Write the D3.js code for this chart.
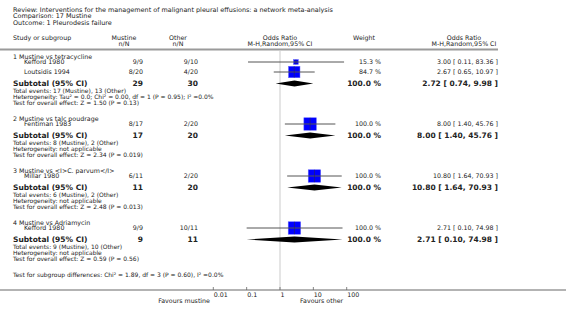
<!DOCTYPE html>
<html><head><meta charset="utf-8">
<script src="https://cdn.jsdelivr.net/npm/d3@7"></script>
<style>
html,body{margin:0;padding:0;background:#fff;}
text{font-family:"DejaVu Sans",sans-serif;fill:#222;}
</style></head>
<body><svg id="c" width="566" height="313"></svg>
<script>
const titleLines = [
  "Review:  Interventions for the management of malignant pleural effusions: a network meta-analysis",
  "Comparison:  17 Mustine",
  "Outcome:  1 Pleurodesis failure"
];
const groupNames = ["1 Mustine vs tetracycline","2 Mustine vs talc poudrage","3 Mustine vs <I>C. parvum</I>","4 Mustine vs Adriamycin"];
const studyGroup = [0,0,1,2,3];
const studyNames = ["Kefford 1980","Loutsidis 1994","Fentiman 1983","Millar 1980","Kefford 1980"];
const studyExp = ["9/9","8/20","8/17","6/11","9/9"];
const studyCtl = ["9/10","4/20","2/20","2/20","10/11"];
const studyWeight = [15.3,84.7,100.0,100.0,100.0];
const studyOR = [3.00,2.67,8.00,10.80,2.71];
const studyLo = [0.11,0.65,1.40,1.64,0.10];
const studyHi = [83.36,10.97,45.76,70.93,74.98];
const subExpN = [29,17,11,9];
const subCtlN = [30,20,20,11];
const subOR = [2.72,8.00,10.80,2.71];
const subLo = [0.74,1.40,1.64,0.10];
const subHi = [9.98,45.76,70.93,74.98];
const subTotalEvents = ["Total events: 17 (Mustine), 13 (Other)","Total events: 8 (Mustine), 2 (Other)","Total events: 6 (Mustine), 2 (Other)","Total events: 9 (Mustine), 10 (Other)"];
const subHet = ["Heterogeneity: Tau\u00B2 = 0.0; Chi\u00B2 = 0.00, df = 1 (P = 0.95); I\u00B2 =0.0%","Heterogeneity: not applicable","Heterogeneity: not applicable","Heterogeneity: not applicable"];
const subTest = ["Test for overall effect: Z = 1.50 (P = 0.13)","Test for overall effect: Z = 2.34 (P = 0.019)","Test for overall effect: Z = 2.48 (P = 0.013)","Test for overall effect: Z = 0.59 (P = 0.56)"];
const subgroupDiff = "Test for subgroup differences: Chi\u00B2 = 1.89, df = 3 (P = 0.60), I\u00B2 =0.0%";
const tickValues = [0.01,0.1,1,10,100];
const tickLabels = ["0.01","0.1","1","10","100"];
const favoursLeft = "Favours mustine";
const favoursRight = "Favours other";

const FS = 6.3, FI = 6.0, FB = 7.5, FT = 6.45;
const svg = d3.select("#c");
const x = d3.scaleLog().domain([0.01,100]).range([213.3,346.7]);
const fmt2 = d3.format(".2f");
const ciText = (o,l,h)=>`${fmt2(o)} [ ${fmt2(l)}, ${fmt2(h)} ]`;

const lines = [];
let yy = 56.5;
groupNames.forEach((g,gi)=>{
  lines.push({type:"group", gi, y:yy});
  const st = studyGroup.map((v,i)=>v===gi?i:-1).filter(i=>i>=0);
  st.forEach((si,k)=>{ yy += (k===0?5.5:10); lines.push({type:"study", si, y:yy}); });
  yy += 11.5; lines.push({type:"sub", gi, y:yy});
  yy += 7.5; lines.push({type:"info", text:subTotalEvents[gi], y:yy});
  yy += 6.1; lines.push({type:"info", text:subHet[gi], y:yy});
  yy += 6.1; lines.push({type:"info", text:subTest[gi], y:yy});
  yy += 15.3;
});
lines.push({type:"info2", text:subgroupDiff, y:yy});

const colExp = 143, colCtl = 198, colW = 381, colOR = 498;
const axisY = 290;

svg.selectAll("text.title").data(titleLines).join("text")
  .attr("x",13).attr("y",(d,i)=>11.5+i*6.5).attr("font-size",FT).text(d=>d);

const hdr = svg.append("g").attr("font-size",FS);
hdr.append("text").attr("x",13).attr("y",40).text("Study or subgroup");
hdr.append("text").attr("x",124).attr("y",40).attr("text-anchor","middle").text("Mustine");
hdr.append("text").attr("x",124).attr("y",46).attr("text-anchor","middle").text("n/N");
hdr.append("text").attr("x",178).attr("y",40).attr("text-anchor","middle").text("Other");
hdr.append("text").attr("x",178).attr("y",46).attr("text-anchor","middle").text("n/N");
hdr.append("text").attr("x",x(1)).attr("y",40).attr("text-anchor","middle").text("Odds Ratio");
hdr.append("text").attr("x",x(1)).attr("y",46).attr("text-anchor","middle").text("M-H,Random,95% CI");
hdr.append("text").attr("x",364).attr("y",40).attr("text-anchor","middle").text("Weight");
hdr.append("text").attr("x",464).attr("y",40).attr("text-anchor","middle").text("Odds Ratio");
hdr.append("text").attr("x",464).attr("y",46).attr("text-anchor","middle").text("M-H,Random,95% CI");
svg.append("line").attr("x1",0).attr("x2",498).attr("y1",49.5).attr("y2",49.5).attr("stroke","#9a9a9a").attr("stroke-width",2);

svg.append("line").attr("x1",x(1)).attr("x2",x(1)).attr("y1",51).attr("y2",axisY).attr("stroke","#dcdcdc").attr("stroke-width",1.5);

const g = svg.append("g");
lines.forEach(L=>{
  const by = L.y + 2.2;
  if(L.type==="group"){
    g.append("text").attr("x",13).attr("y",by).attr("font-size",FS).text(groupNames[L.gi]);
  } else if(L.type==="study"){
    const i=L.si;
    g.append("text").attr("x",24).attr("y",by).attr("font-size",FS).text(studyNames[i]);
    g.append("text").attr("x",colExp).attr("y",by).attr("font-size",FS).attr("text-anchor","end").text(studyExp[i]);
    g.append("text").attr("x",colCtl).attr("y",by).attr("font-size",FS).attr("text-anchor","end").text(studyCtl[i]);
    g.append("text").attr("x",colW).attr("y",by).attr("font-size",FS).attr("text-anchor","end").text(studyWeight[i].toFixed(1)+" %");
    g.append("text").attr("x",colOR).attr("y",by).attr("font-size",FS).attr("text-anchor","end").text(ciText(studyOR[i],studyLo[i],studyHi[i]));
    const s = 12.5*Math.sqrt(studyWeight[i]/100);
    const cx = x(studyOR[i]);
    g.append("rect").attr("x",cx-s/2).attr("y",L.y-s/2).attr("width",s).attr("height",s).attr("fill","#0000ff").attr("stroke","#6b6bff").attr("stroke-width",0.5);
    g.append("line").attr("x1",x(studyLo[i])).attr("x2",x(studyHi[i])).attr("y1",L.y).attr("y2",L.y).attr("stroke","#555").attr("stroke-width",1);
    g.append("line").attr("x1",cx).attr("x2",cx).attr("y1",L.y-s/2).attr("y2",L.y+s/2).attr("stroke","#333").attr("stroke-width",0.5);
  } else if(L.type==="sub"){
    const i=L.gi, b=L.y+2.7;
    g.append("text").attr("x",13).attr("y",b).attr("font-size",FB).attr("font-weight","bold").text("Subtotal (95% CI)");
    g.append("text").attr("x",colExp).attr("y",b).attr("font-size",FB).attr("font-weight","bold").attr("text-anchor","end").text(subExpN[i]);
    g.append("text").attr("x",colCtl).attr("y",b).attr("font-size",FB).attr("font-weight","bold").attr("text-anchor","end").text(subCtlN[i]);
    g.append("text").attr("x",colW).attr("y",b).attr("font-size",FB).attr("font-weight","bold").attr("text-anchor","end").text("100.0 %");
    g.append("text").attr("x",colOR).attr("y",b).attr("font-size",FB).attr("font-weight","bold").attr("text-anchor","end").text(ciText(subOR[i],subLo[i],subHi[i]));
    const pts = [[x(subLo[i]),L.y],[x(subOR[i]),L.y-3],[x(subHi[i]),L.y],[x(subOR[i]),L.y+3]];
    g.append("polygon").attr("points",pts.map(p=>p.join(",")).join(" ")).attr("fill","#000");
  } else {
    g.append("text").attr("x",13).attr("y",L.y+2.1).attr("font-size",FI).text(L.text);
  }
});

svg.append("line").attr("x1",0).attr("x2",566).attr("y1",axisY).attr("y2",axisY).attr("stroke","#9a9a9a").attr("stroke-width",1.5);
const ax = svg.append("g");
ax.selectAll("line.t").data(tickValues).join("line")
  .attr("x1",d=>x(d)).attr("x2",d=>x(d)).attr("y1",axisY-3).attr("y2",axisY).attr("stroke","#666").attr("stroke-width",0.8);
ax.selectAll("text.t").data(tickValues).join("text")
  .attr("x",d=>x(d)+0.5).attr("y",axisY+6.5).attr("font-size",FS).text((d,i)=>tickLabels[i]);
svg.append("text").attr("x",210).attr("y",axisY+12.5).attr("font-size",FS).attr("text-anchor","end").text(favoursLeft);
svg.append("text").attr("x",300).attr("y",axisY+12.5).attr("font-size",FS).text(favoursRight);
</script></body></html>
